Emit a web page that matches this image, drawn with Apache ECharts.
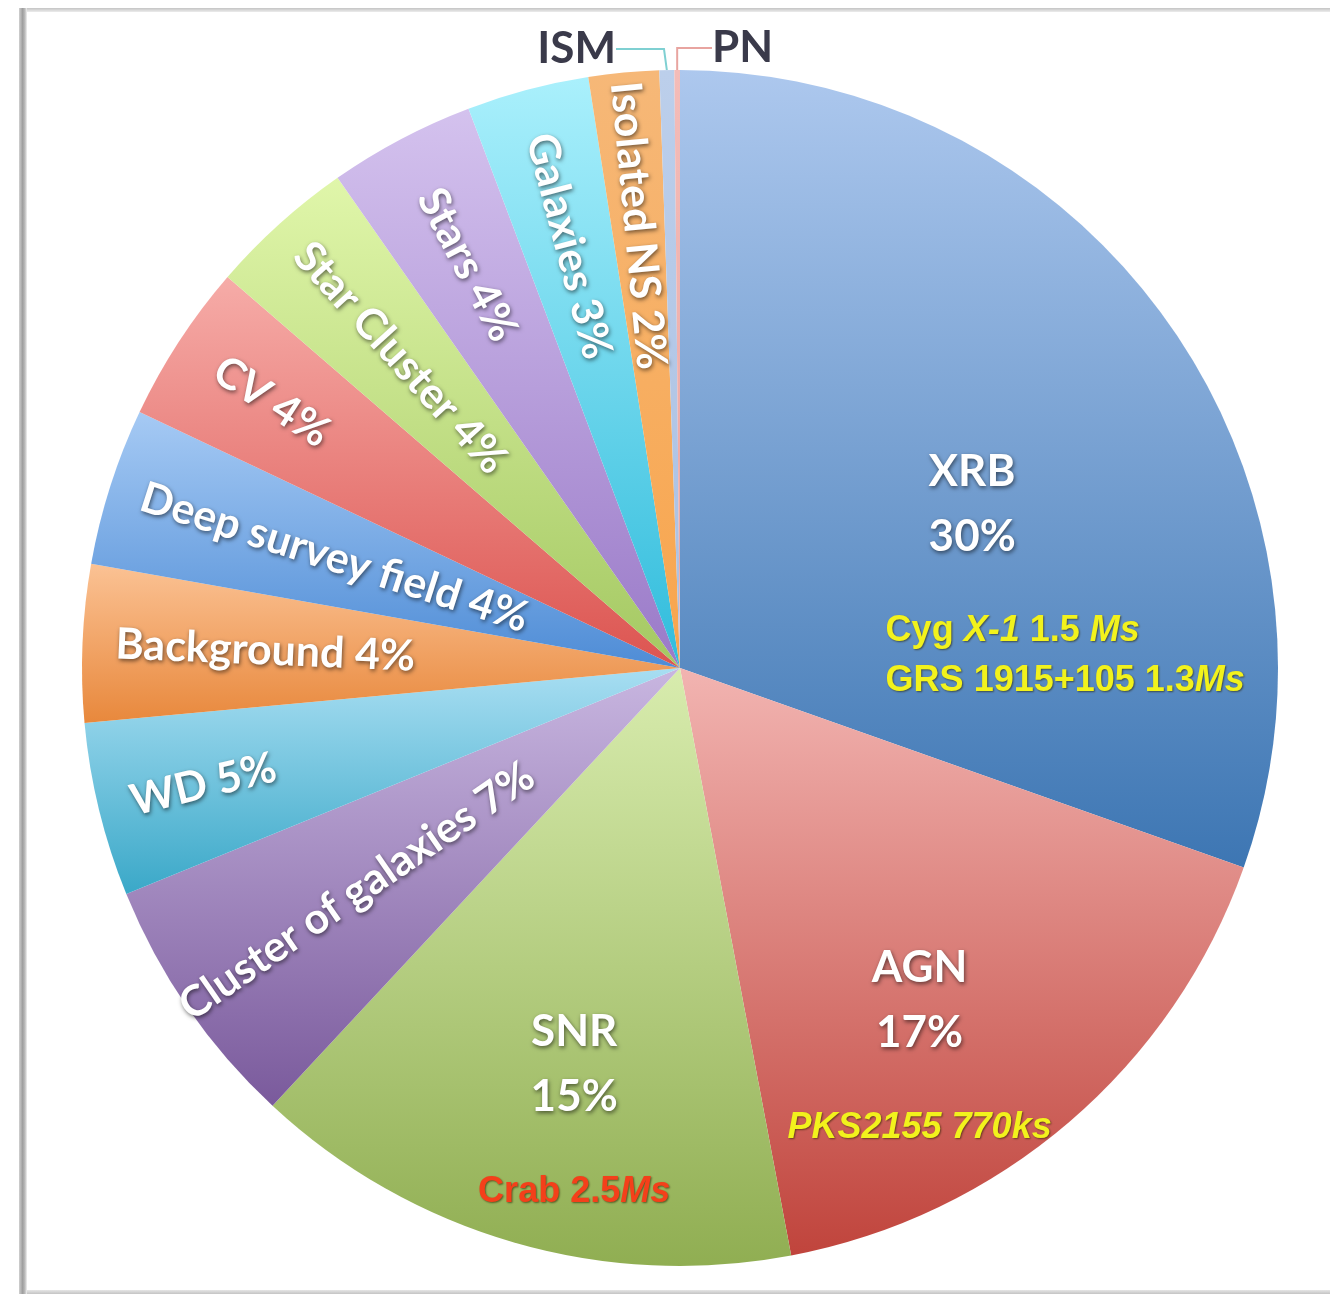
<!DOCTYPE html>
<html><head><meta charset="utf-8">
<script src="https://cdn.jsdelivr.net/npm/echarts@6/dist/echarts.min.js"></script>
<style>html,body{margin:0;padding:0;background:#fff}#c{width:1330px;height:1294px}</style>
</head><body><div id="c"></div>
<script>
// ---------------- data ----------------
const categories = ['XRB','AGN','SNR','Cluster of galaxies','WD','Background','Deep survey field','CV','Star Cluster','Stars','Galaxies','Isolated NS','ISM','PN'];
const shares = [30.4, 16.6, 14.9, 6.9, 4.7, 4.25, 4.25, 4.3, 3.95, 3.95, 3.3, 1.9, 0.4, 0.15];
const noteXRB = ['Cyg X-1 1.5 Ms', 'GRS 1915+105 1.3Ms'];
const noteAGN = ['PKS2155 770ks'];
const noteSNR = ['Crab 2.5Ms'];
const notes = { XRB: noteXRB, AGN: noteAGN, SNR: noteSNR };

// ---------------- styling ----------------
const cx = 680, cy = 668, R = 598;
const FF = 'Lato,"Open Sans",sans-serif';
const NF = '"Liberation Sans",Arial,sans-serif';
const RADIAL_SIZE = 43;
const sliceColors = {
  'XRB': ['#adc8ee', '#3d76b3'],
  'AGN': ['#f2b4b1', '#c0443c'],
  'SNR': ['#d8ecae', '#90ae52'],
  'Cluster of galaxies': ['#c8b6e0', '#7a5a9c'],
  'WD': ['#a8def2', '#3aa8c8'],
  'Background': ['#fbc294', '#e8883c'],
  'Deep survey field': ['#a6caf4', '#4e8cd6'],
  'CV': ['#f6aca8', '#dc5450'],
  'Star Cluster': ['#e0f6aa', '#a4c862'],
  'Stars': ['#d4c2ee', '#9a7ac8'],
  'Galaxies': ['#aaf0fc', '#30bcdc'],
  'Isolated NS': ['#f6b878', '#f8a54c'],
  'ISM': ['#bccfeb', '#aac0e2'],
  'PN': ['#f4bcb8', '#eaa6a2']
};
const noteColor = { XRB: '#f2f21c', AGN: '#f2f21c', SNR: '#f4401a' };
const bigCfg = {
  XRB: { dx: -41, dy: 79, align: 'left' },
  AGN: { dx: 43, dy: 147, align: 'center' },
  SNR: { dx: -22, dy: 150, align: 'center' }
};
const outerEnd = 565;
const radialTweak = { 'Stars': -26, 'Cluster of galaxies': 38, 'CV': -13, 'Galaxies': -13, 'Isolated NS': 24 };
const leaderColor = { ISM: '#7fd0d2', PN: '#e8a4a0' };

const total = shares.reduce((a, b) => a + b, 0);
const pct = v => Math.round(v / total * 100) + '%';
const mids = []; let acc = 0;
shares.forEach(v => { mids.push((acc + v / 2) / total * 360); acc += v; });

const mctx = document.createElement('canvas').getContext('2d');
function textW(s, font) { mctx.font = font; return mctx.measureText(s).width; }

const shadow = { textShadowColor: 'rgba(0,0,0,0.55)', textShadowBlur: 4, textShadowOffsetX: 1, textShadowOffsetY: 2 };
const rich = {
  g: { lineHeight: 37, fontSize: 10 },
  tL: Object.assign({ fontFamily: FF, fontWeight: 'bold', fontSize: 44, color: '#fff', lineHeight: 65, align: 'left', padding: [0, 0, 0, 43] }, shadow),
  tC: Object.assign({ fontFamily: FF, fontWeight: 'bold', fontSize: 44, color: '#fff', lineHeight: 65, align: 'center' }, shadow)
};
['XRB', 'AGN', 'SNR'].forEach(k => {
  const al = bigCfg[k].align === 'left' ? 'left' : 'center';
  const base = { fontFamily: NF, fontSize: 36, fontWeight: 'bold', color: noteColor[k], lineHeight: 50, align: al,
    textShadowColor: 'rgba(40,30,0,0.6)', textShadowBlur: 2, textShadowOffsetX: 1, textShadowOffsetY: 1 };
  rich['n' + k] = Object.assign({}, base);
  rich['i' + k] = Object.assign({}, base, { fontStyle: 'italic' });
});

function noteLine(k, s) {
  return s.split(/(X-1|Ms|PKS2155 770ks)/).filter(p => p !== '')
    .map(p => (/^(X-1|Ms|PKS2155 770ks)$/.test(p) ? '{i' + k + '|' : '{n' + k + '|') + p + '}').join('');
}

const data = categories.map((name, i) => {
  const c = sliceColors[name];
  const item = {
    name, value: shares[i],
    itemStyle: { color: new echarts.graphic.LinearGradient(0, 0, 0, 1, [{ offset: 0, color: c[0] }, { offset: 1, color: c[1] }]) }
  };
  if (bigCfg[name]) {
    item.label = { rotate: 0, position: 'inside' };
  } else if (leaderColor[name]) {
    item.label = { rotate: 0, position: 'outside', color: '#3a3a4a', fontSize: 44, textShadowBlur: 0, textShadowOffsetX: 0, textShadowOffsetY: 0, distance: 2 };
    item.labelLine = { show: true, length: 8, length2: name === 'ISM' ? 48 : 37, smooth: false, lineStyle: { color: leaderColor[name], width: 2 } };
  } else {
    item.label = { rotate: 'radial', position: 'inside' };
  }
  return item;
});

const chart = echarts.init(document.getElementById('c'), null, { renderer: 'canvas' });
chart.setOption({
  animation: false,
  backgroundColor: '#ffffff',
  graphic: [
    { type: 'rect', shape: { x: 19, y: 8, width: 8, height: 1286 }, z: 100,
      style: { fill: new echarts.graphic.LinearGradient(0, 0, 1, 0, [{ offset: 0, color: '#d0d0d0' }, { offset: 0.45, color: '#9e9e9e' }, { offset: 0.75, color: '#bdbdbd' }, { offset: 1, color: '#f2f2f2' }]) } },
    { type: 'rect', shape: { x: 19, y: 8, width: 1311, height: 4 }, z: 99,
      style: { fill: new echarts.graphic.LinearGradient(0, 0, 0, 1, [{ offset: 0, color: '#c4c4c4' }, { offset: 1, color: '#ececec' }]) } },
    { type: 'rect', shape: { x: 19, y: 1290, width: 1311, height: 4 }, z: 99,
      style: { fill: new echarts.graphic.LinearGradient(0, 0, 0, 1, [{ offset: 0, color: '#e6e6e6' }, { offset: 1, color: '#c4c4c4' }]) } }
  ],
  series: [{
    type: 'pie',
    center: [cx, cy],
    radius: [0, R],
    startAngle: 90,
    clockwise: true,
    avoidLabelOverlap: false,
    silent: true,
    itemStyle: { borderWidth: 0 },
    labelLine: { show: false },
    label: Object.assign({
      show: true, position: 'inside', color: '#fff', fontFamily: FF, fontWeight: 'bold', fontSize: RADIAL_SIZE,
      rich,
      formatter: p => {
        const name = p.name, i = p.dataIndex;
        if (bigCfg[name]) {
          const t = bigCfg[name].align === 'left' ? 'tL' : 'tC';
          return '{' + t + '|' + name + '}\n{' + t + '|' + pct(shares[i]) + '}\n{g|}\n' + notes[name].map(s => noteLine(name, s)).join('\n');
        }
        if (leaderColor[name]) return name;
        return name + ' ' + pct(shares[i]);
      }
    }, shadow),
    labelLayout: p => {
      const i = p.dataIndex, name = categories[i];
      if (bigCfg[name]) return { dx: bigCfg[name].dx, dy: bigCfg[name].dy, align: bigCfg[name].align };
      if (name === 'ISM') return { x: cx - 64, y: cy - R - 21, align: 'right', verticalAlign: 'middle' };
      if (name === 'PN') return { x: cx + 32, y: cy - R - 22, align: 'left', verticalAlign: 'middle' };
      // radial labels: offset is along the text's own direction
      const w = textW(name + ' ' + pct(shares[i]), 'bold ' + RADIAL_SIZE + 'px ' + FF);
      const s = outerEnd + (radialTweak[name] || 0) - w / 2 - 302;
      const th = mids[i] * Math.PI / 180;
      return { dx: Math.sin(th) < 0 ? -s : s, dy: 0 };
    },
    data
  }]
});
</script>
</body></html>
